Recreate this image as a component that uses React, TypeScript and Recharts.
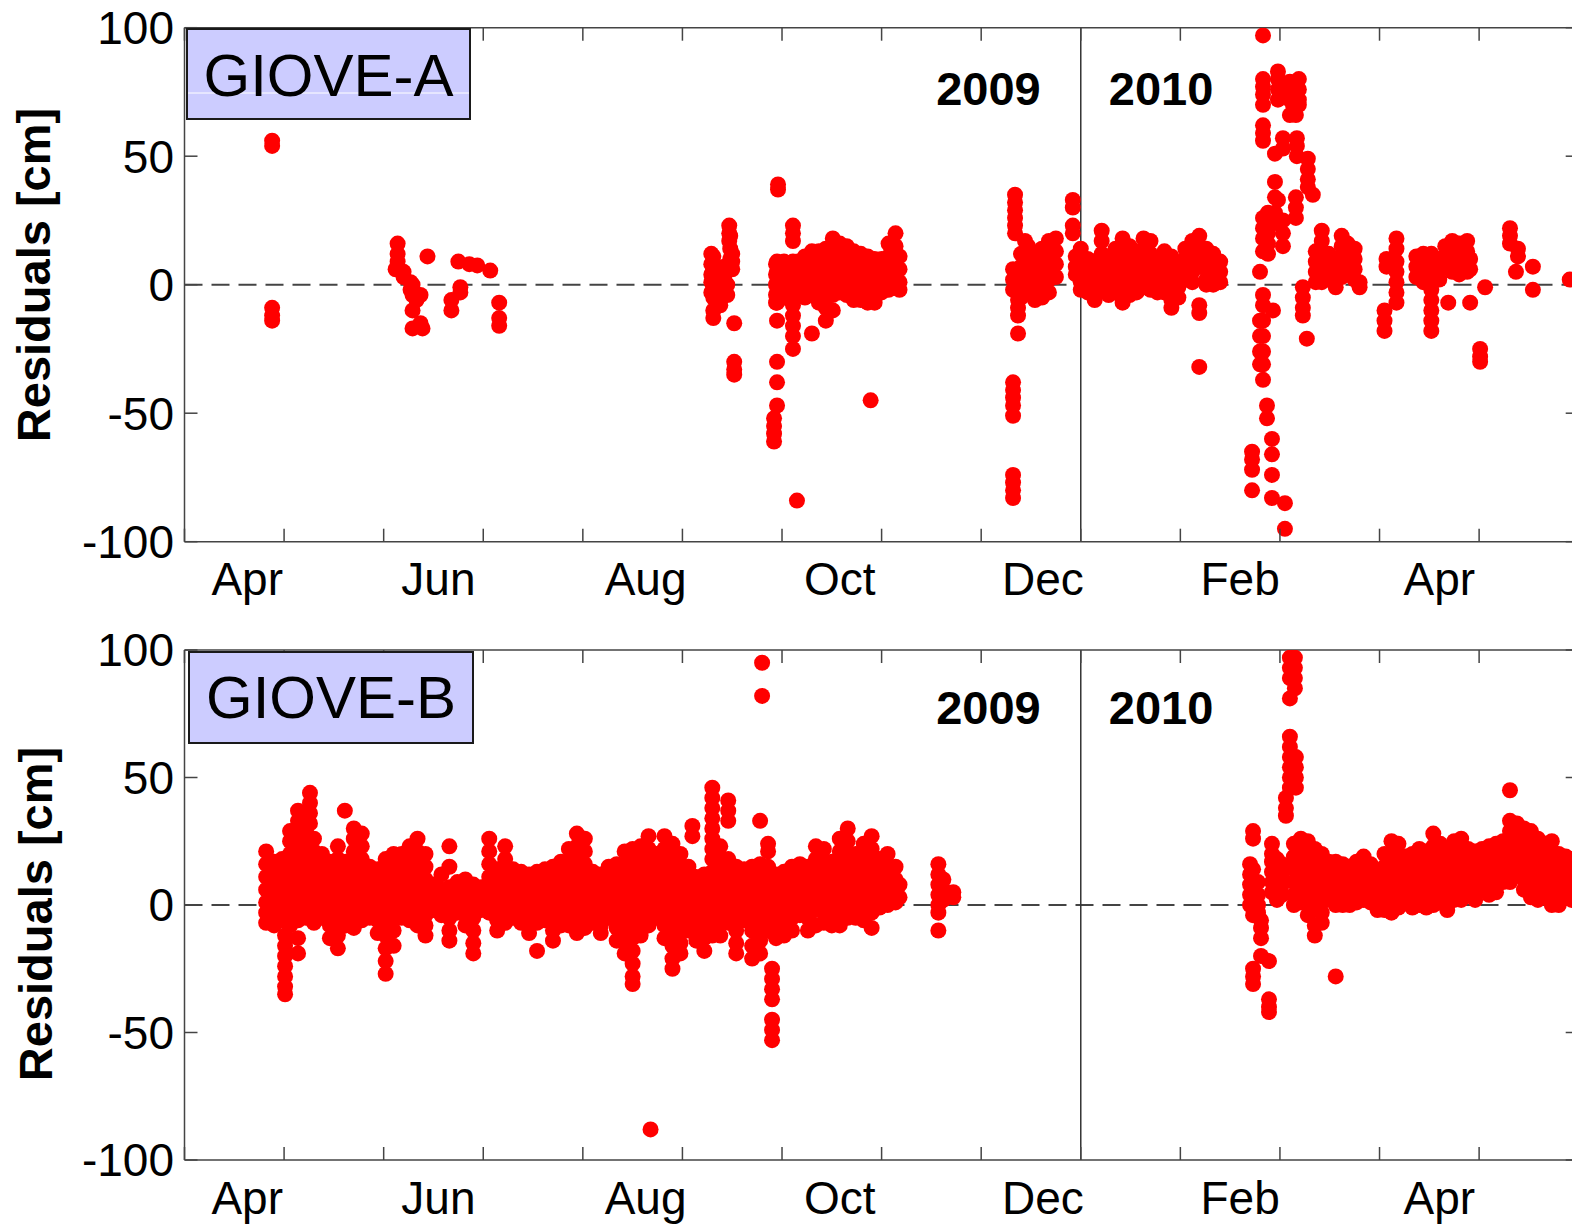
import React from 'react';
import { ScatterChart, Scatter, XAxis, YAxis, ReferenceLine, Legend } from 'recharts';

// time is in months since 1 Apr 2009, residuals in cm
type Epoch = [number, number[]];

const monthTicks = [0, 1, 2, 3, 4, 5, 6, 7, 8, 9, 10, 11, 12, 13, 14];
const monthLabels = ['Apr', 'Jun', 'Aug', 'Oct', 'Dec', 'Feb', 'Apr'];
const labelTicks = [0.63, 2.55, 4.63, 6.58, 8.62, 10.6, 12.6];
const residualTicks = [-100, -50, 0, 50, 100];
const yearBreak = 9;
const yearLabels = ['2009', '2010'];

const gioveA_spring09: Epoch[] = [
  [0.88, [56, 54, -9, -12, -14]],
  [2.12, [6]],
  [2.14, [16, 12, 9]],
  [2.2, [5, 3]],
  [2.27, [1, -2]],
  [2.29, [0, -4, -10, -17]],
  [2.33, [-6]],
  [2.37, [-15, -4]],
  [2.39, [-17]],
  [2.44, [11]],
  [2.68, [-6, -10]],
  [2.75, [9]],
  [2.77, [-1, -3]],
  [2.86, [8]],
  [2.94, [7.5]],
  [3.07, [5.5]],
  [3.16, [-7, -13, -16]],
];

const gioveA_autumn09: Epoch[] = [
  [5.29, [12, 8, 4, 1, -3]],
  [5.31, [11, 6, 0, -5, -10, -13]],
  [5.35, [3, -2, -7]],
  [5.38, [5, -8]],
  [5.42, [7, 2, -4]],
  [5.45, [6, 0, -4]],
  [5.47, [23, 20, 17]],
  [5.48, [19, 14, 10]],
  [5.5, [12, 9, 6]],
  [5.52, [-15, -30, -33, -35]],
  [5.92, [-52, -55, -58, -61]],
  [5.94, [8, 4, 0, -4, -7]],
  [5.95, [9, 5, 1, -3, -7, -14, -30, -38, -47]],
  [5.96, [39, 37]],
  [5.99, [8, 3, -1]],
  [6.02, [9, 4, 0, -5]],
  [6.11, [23, 20, 17, 9, 4, 0, -4, -8, -12, -16, -20, -25]],
  [6.15, [-84]],
  [6.16, [9, 5, 1, -3]],
  [6.23, [11, 7, 3, -1, -5]],
  [6.3, [13, 9, 4, 0, -4, -19]],
  [6.37, [13, 8, 3, -2, -7]],
  [6.44, [14, 10, 5, 0, -5, -9, -14]],
  [6.51, [18, 14, 9, 4, 0, -4, -10]],
  [6.58, [16, 12, 7, 2, -3]],
  [6.65, [15, 11, 6, 1, -4]],
  [6.72, [13, 9, 4, -1, -6]],
  [6.79, [12, 8, 3, -2, -6]],
  [6.86, [11, 7, 2, -3, -7]],
  [6.89, [-45]],
  [6.93, [10, 6, 1, -4, -7]],
  [7.0, [10, 5, 0, -3]],
  [7.07, [16, 11, 6, 1, -2]],
  [7.14, [20, 15, 10, 5, 0]],
  [7.18, [11, 6, 1, -2]],
];

const gioveA_dec09: Epoch[] = [
  [8.32, [6, 2, -2, -38, -41, -44, -47, -51, -74, -77, -80, -83]],
  [8.34, [35, 32, 29, 26, 23, 20]],
  [8.37, [-6, -9, -12, -19]],
  [8.4, [12, 7, 3, -1, -5]],
  [8.44, [17, 13, 9]],
  [8.47, [15, 10, 5, 1, -3]],
  [8.54, [11, 6, 2, -2, -6]],
  [8.61, [14, 9, 4, 0, -5]],
  [8.68, [17, 12, 7, 2, -3]],
  [8.75, [18, 13, 8, 3]],
  [8.92, [33, 30, 23, 20]],
  [8.95, [11, 7, 4]],
];

const gioveA_2010: Epoch[] = [
  [9.0, [14, 10, 5, 1, -2]],
  [9.07, [10, 6, 2, -3]],
  [9.14, [9, 5, 1, -3, -6]],
  [9.21, [21, 17, 12, 7, 3, -1]],
  [9.28, [11, 7, 3, -1, -4]],
  [9.35, [14, 9, 5, 1, -3]],
  [9.42, [18, 13, 8, 3, -2, -7]],
  [9.49, [15, 10, 5, 1, -4]],
  [9.56, [13, 9, 5, 1, -3]],
  [9.63, [18, 13, 8, 3, -1]],
  [9.7, [17, 12, 7, 3, -2]],
  [9.77, [9, 5, 1, -3]],
  [9.84, [13, 8, 4, 0, -3]],
  [9.91, [11, 6, 2, -2, -6, -9]],
  [9.98, [7, 3, -1, -5]],
  [10.05, [14, 10, 6, 2]],
  [10.12, [17, 13, 9, 5, 1]],
  [10.19, [19, 15, 11, 7, -8, -11, -32]],
  [10.26, [14, 10, 6, 2, 0]],
  [10.33, [12, 8, 4, 0]],
  [10.4, [9, 5, 1]],
  [10.72, [-65, -68, -72, -80]],
  [10.8, [5, -14, -20, -26, -31]],
  [10.83, [97, 80, 77, 74, 70, 62, 59, 56, 26, 22, 18, 13, -4, -8, -14, -20, -26, -31, -37]],
  [10.87, [-47, -52]],
  [10.88, [28, 24, 20, 16, 12]],
  [10.92, [-60, -66, -74, -83]],
  [10.93, [-10]],
  [10.95, [51, 40, 34, 28, 24]],
  [10.98, [83, 80, 76, 72, 33]],
  [11.03, [57, 53, 25, 20, 15]],
  [11.05, [-85, -95]],
  [11.1, [79, 76, 72, 66]],
  [11.13, [75, 70]],
  [11.16, [66, 34, 30, 26]],
  [11.17, [57, 54, 50]],
  [11.19, [80, 76, 72, 70]],
  [11.23, [-1, -5, -9, -12]],
  [11.27, [-21]],
  [11.28, [49, 45, 41, 38]],
  [11.33, [35]],
  [11.36, [13, 9, 5, 1]],
  [11.42, [21, 17, 13, 8, 4, 1]],
  [11.49, [12, 8, 4]],
  [11.56, [10, 6, 2, -1]],
  [11.62, [19, 15, 11, 7, 3]],
  [11.68, [16, 12, 8, 4]],
  [11.75, [14, 10, 6, 2]],
  [11.8, [1, -1]],
  [12.05, [-10, -14, -18]],
  [12.07, [10, 7]],
  [12.17, [18, 14, 9, 5, 1, -3, -7]],
  [12.37, [11, 7, 3]],
  [12.44, [12, 8, 4, 1]],
  [12.52, [12, 8, 4, -2, -6, -10, -14, -18]],
  [12.6, [10, 6, 2]],
  [12.66, [15, 11, 7]],
  [12.69, [-7]],
  [12.73, [17, 13, 9, 5]],
  [12.8, [16, 12, 8, 4]],
  [12.88, [17, 13, 9, 5]],
  [12.91, [10, 6, -7]],
  [13.01, [-25, -28, -30]],
  [13.06, [-1]],
  [13.31, [22, 19, 16]],
  [13.37, [5]],
  [13.39, [14, 11]],
  [13.54, [7, -2]],
  [13.91, [2]],
];

const gioveB_summer09: Epoch[] = [
  [0.82, [21, 16, 11, 6, 1, -3, -7]],
  [0.9, [17, 12, 7, 3, -1, -5, -8]],
  [0.98, [18, 13, 8, 3, -2, -6]],
  [1.01, [-12, -16, -20, -24, -28, -32, -35]],
  [1.06, [29, 25, 20, 15, 10, 5, 0, -4, -8]],
  [1.14, [37, 33, 28, 23, 18, 13, 8, 3, -2, -6, -13, -19]],
  [1.22, [34, 29, 24, 19, 14, 9, 4, -1, -5]],
  [1.26, [44, 40, 36, 32]],
  [1.3, [26, 21, 16, 11, 6, 1, -3, -7]],
  [1.38, [20, 15, 10, 5, 0, -5]],
  [1.46, [17, 12, 7, 2, -3, -8, -13]],
  [1.54, [23, 18, 13, 8, 3, -2, -7, -12, -17]],
  [1.61, [37]],
  [1.62, [17, 12, 7, 2, -3, -8]],
  [1.7, [30, 26, 21, 16, 11, 6, 1, -4, -9]],
  [1.78, [28, 23, 18, 13, 8, 3, -2, -6]],
  [1.86, [15, 10, 5, 0, -5]],
  [1.94, [14, 9, 4, -1, -6, -11]],
  [2.02, [18, 13, 8, 3, -2, -7, -12, -17, -22, -27]],
  [2.1, [20, 15, 10, 5, 0, -5, -10, -16]],
  [2.18, [20, 15, 10, 5, 0, -5]],
  [2.26, [23, 18, 13, 8, 3, -2, -6]],
  [2.34, [26, 21, 16, 11, 6, 1, -4, -8]],
  [2.42, [20, 15, 10, 5, 0, -4, -8, -12]],
  [2.5, [8, 3, -2]],
  [2.58, [12, 6, 1, -4]],
  [2.66, [23, 15, 7, 3, -1, -5, -10, -14]],
  [2.74, [9, 5, 1, -3]],
  [2.82, [10, 5, 0, -4, -8]],
  [2.9, [8, 4, 0, -5, -10, -15, -19]],
  [2.98, [7, 3, -2]],
  [3.06, [26, 21, 16, 11, 6, 1, -3]],
  [3.14, [14, 9, 4, -1, -6, -10]],
  [3.22, [23, 18, 13, 8, 3, -2, -7]],
  [3.3, [14, 9, 4, -1, -5]],
  [3.38, [13, 8, 3, -2, -7]],
  [3.46, [12, 7, 2, -3, -8, -11]],
  [3.54, [13, 8, 3, -2, -7, -18]],
  [3.62, [14, 9, 4, -1, -6]],
  [3.7, [15, 10, 5, 0, -5, -10, -14]],
  [3.78, [17, 12, 7, 2, -3, -8]],
  [3.86, [22, 17, 12, 7, 2, -3, -8]],
  [3.94, [28, 23, 18, 13, 8, 3, -2, -7, -11]],
];

const gioveB_autumn09: Epoch[] = [
  [4.02, [26, 21, 16, 11, 6, 1, -4, -9]],
  [4.1, [13, 8, 3, -2, -7]],
  [4.18, [12, 7, 2, -3, -8, -11]],
  [4.26, [15, 10, 5, 0, -5]],
  [4.34, [16, 11, 6, 1, -4, -9, -14]],
  [4.42, [21, 16, 11, 6, 1, -4, -9, -14, -19]],
  [4.5, [22, 17, 12, 7, 2, -3, -8, -13, -18, -23, -28, -31]],
  [4.58, [23, 18, 13, 8, 3, -2, -7, -12]],
  [4.66, [27, 22, 17, 12, 7, 2, -3, -8]],
  [4.68, [-88]],
  [4.74, [20, 15, 10, 5, 0, -5]],
  [4.82, [27, 22, 17, 12, 7, 2, -3, -8, -13]],
  [4.9, [24, 19, 14, 9, 4, -1, -6, -11, -16, -21, -25]],
  [4.98, [20, 15, 10, 5, 0, -5, -10, -15, -19]],
  [5.06, [15, 10, 5, 0, -5, -10]],
  [5.1, [31, 27]],
  [5.14, [11, 6, 1, -4, -9, -14]],
  [5.22, [12, 7, 2, -3, -8, -13, -18]],
  [5.3, [46, 42, 38, 34, 30, 26, 22, 18, 13, 8, 3, -2, -7, -12]],
  [5.38, [23, 18, 13, 8, 3, -2, -7, -12]],
  [5.46, [41, 37, 33, 18, 13, 8, 3, -2, -7]],
  [5.54, [15, 10, 5, 0, -5, -10, -15, -19]],
  [5.62, [14, 9, 4, -1, -6]],
  [5.7, [15, 10, 5, 0, -5, -10, -16, -21]],
  [5.78, [33, 16, 11, 6, 1, -4, -9, -14, -19]],
  [5.8, [95, 82]],
  [5.86, [24, 21, 15, 10, 5, 0, -5, -10]],
  [5.9, [-25, -29, -33, -37, -45, -49, -53]],
  [5.94, [12, 7, 2, -3, -8, -13]],
  [6.02, [13, 8, 3, -2, -7, -12]],
  [6.1, [15, 10, 5, 0, -5, -10]],
  [6.18, [16, 11, 6, 1, -4]],
  [6.26, [15, 10, 5, 0, -5, -10]],
  [6.34, [23, 18, 13, 8, 3, -2, -8]],
  [6.42, [22, 17, 12, 7, 2, -3, -7]],
  [6.5, [17, 12, 7, 2, -3, -8]],
  [6.58, [26, 21, 16, 11, 6, 1, -4, -8]],
  [6.66, [30, 25, 20, 15, 10, 5, 0, -5]],
  [6.74, [20, 15, 10, 5, 0, -5]],
  [6.82, [24, 19, 14, 9, 4, -1, -6]],
  [6.9, [27, 22, 17, 12, 7, 2, -3, -9]],
  [6.98, [18, 13, 8, 3, -1]],
  [7.06, [20, 15, 10, 5, 0]],
  [7.14, [15, 10, 5, 1]],
  [7.18, [8, 3]],
  [7.57, [16, 12, 8, 4, 0, -3, -10]],
  [7.62, [10, 6, 2]],
  [7.72, [5, 3]],
];

const gioveB_2010: Epoch[] = [
  [10.7, [16, 12, 8, 4, 0]],
  [10.73, [29, 26, 14, -1, -4, -25, -28, -31]],
  [10.78, [9, 4, 0, -3]],
  [10.81, [-6, -9, -13, -20]],
  [10.89, [-22, -37, -40, -42]],
  [10.92, [24, 20, 17, 13, 9, 5]],
  [10.97, [18, 14, 10, 6, 2]],
  [11.02, [16, 12, 8, 4]],
  [11.06, [42, 38, 35]],
  [11.1, [97, 93, 89, 81, 66, 62, 58, 54, 50, 46]],
  [11.15, [97, 93, 89, 85]],
  [11.16, [58, 54, 50, 46]],
  [11.14, [24, 19, 14, 9, 4, 0]],
  [11.21, [26, 21, 16, 11, 6, 1]],
  [11.28, [25, 20, 15, 10, 5, 1, -4]],
  [11.35, [22, 18, 13, 8, 3, -2, -8, -12]],
  [11.42, [20, 15, 10, 5, 1, -3, -7]],
  [11.49, [17, 12, 8, 4]],
  [11.56, [17, 13, 8, 4, 0, -28]],
  [11.63, [16, 12, 8, 4, 0]],
  [11.7, [15, 11, 7, 3, 0]],
  [11.77, [17, 13, 9, 5, 1]],
  [11.84, [19, 14, 10, 6, 2]],
  [11.91, [16, 12, 8, 4, 1]],
  [11.98, [13, 9, 5, 1, -2]],
  [12.05, [20, 15, 10, 6, 2, -2]],
  [12.12, [25, 20, 15, 10, 5, 0, -3]],
  [12.19, [24, 19, 14, 9, 4, -1]],
  [12.26, [19, 14, 10, 6, 2]],
  [12.33, [20, 15, 11, 7, 3, -1]],
  [12.4, [22, 17, 12, 8, 4, 0]],
  [12.47, [21, 16, 11, 7, 3, -1]],
  [12.54, [28, 23, 18, 13, 8, 4, 0]],
  [12.61, [24, 19, 14, 9, 5, 1]],
  [12.68, [22, 17, 12, 8, 4, 0, -2]],
  [12.75, [25, 20, 15, 10, 6, 2]],
  [12.82, [26, 21, 16, 11, 6, 2]],
  [12.89, [22, 17, 12, 8, 4]],
  [12.96, [21, 17, 13, 9, 5, 2]],
  [13.03, [22, 18, 14, 10, 6]],
  [13.1, [23, 19, 15, 11, 7, 4]],
  [13.17, [24, 20, 16, 12, 8, 5]],
  [13.24, [25, 21, 17, 13, 9]],
  [13.31, [45, 33, 29, 25, 21, 17, 13, 9]],
  [13.38, [32, 28, 24, 20, 16, 12]],
  [13.45, [30, 26, 22, 18, 14, 10, 6]],
  [13.52, [29, 25, 21, 17, 13, 8, 3]],
  [13.59, [26, 22, 18, 14, 10, 6, 2]],
  [13.66, [24, 20, 16, 12, 8, 4]],
  [13.73, [25, 21, 17, 13, 9, 4, 0]],
  [13.8, [20, 16, 12, 8, 4, 0]],
  [13.87, [19, 15, 11, 7, 3]],
  [13.93, [18, 14, 10, 6, 2]],
];

const FONT = "'Liberation Sans', Arial, Helvetica, sans-serif";
const axisColor = '#444';

const toPoints = (groups: Epoch[][]) =>
  groups.flat().flatMap(([t, rs]) => rs.map((r) => ({ t, r })));

const gioveA = toPoints([gioveA_spring09, gioveA_autumn09, gioveA_dec09, gioveA_2010]);
const gioveB = toPoints([gioveB_summer09, gioveB_autumn09, gioveB_2010]);

// bottom axis carries the month tick marks (bottom and top of the box) and the month names
const bottomTicks = [...monthTicks, ...labelTicks].sort((a, b) => a - b);

const MonthTick = (props: any) => {
  const { x, y, payload, span } = props;
  const i = labelTicks.indexOf(payload.value);
  if (i >= 0) {
    return (
      <text x={x} y={y + 21} dy="0.71em" textAnchor="middle" fontFamily={FONT} fontSize={46} fill="#000">
        {monthLabels[i]}
      </text>
    );
  }
  return (
    <g stroke={axisColor} strokeWidth={1.5}>
      <line x1={x} x2={x} y1={y} y2={y - 13} />
      <line x1={x} x2={x} y1={y - span} y2={y - span + 13} />
    </g>
  );
};

const NoLabel = () => <g />;

const Dot = (props: any) => {
  const { cx, cy } = props;
  if (cx == null || cy == null) return null;
  return <circle cx={cx} cy={cy} r={8} fill="#ff0000" />;
};

const YearMarks = (props: any) => {
  const { viewBox, baseline } = props;
  if (!viewBox) return null;
  return (
    <g fontFamily={FONT} fontWeight="bold" fontSize={47} fill="#000">
      <text x={viewBox.x - 40} y={viewBox.y + baseline} textAnchor="end">
        {yearLabels[0]}
      </text>
      <text x={viewBox.x + 28} y={viewBox.y + baseline} textAnchor="start">
        {yearLabels[1]}
      </text>
    </g>
  );
};

const AxisTitle = (props: any) => {
  const { bx, my } = props;
  return (
    <text
      x={bx}
      y={my}
      transform={`rotate(-90 ${bx} ${my})`}
      textAnchor="middle"
      fontFamily={FONT}
      fontWeight="bold"
      fontSize={47}
      fill="#000"
    >
      Residuals [cm]
    </text>
  );
};

const NameBox = ({ name, w, h, textY, glint }: any) => (
  <svg width={w} height={h} style={{ display: 'block' }}>
    <rect x={1} y={1} width={w - 2} height={h - 2} fill="#ccccff" stroke="#1a1a1a" strokeWidth={2} />
    {glint != null && <line x1={2} x2={w - 2} y1={glint} y2={glint} stroke="#ffffff" strokeWidth={1} />}
    <text x={w / 2} y={textY} textAnchor="middle" fontFamily={FONT} fontSize={60} fill="#000">
      {name}
    </text>
  </svg>
);

const tickStyle = { fontSize: 46, fill: '#000', fontFamily: FONT };

const Panel = ({ name, data, height, margin, span, titleX, titleY, yearBaseline, box }: any) => (
  <ScatterChart width={1600} height={height} margin={margin}>
    <XAxis
      xAxisId="t"
      type="number"
      dataKey="t"
      domain={[0, 14]}
      allowDataOverflow
      ticks={bottomTicks}
      interval={0}
      tick={<MonthTick span={span} />}
      tickLine={false}
      tickSize={0}
      tickMargin={0}
      height={1}
      stroke={axisColor}
      strokeWidth={1.5}
    />
    <XAxis
      xAxisId="top"
      orientation="top"
      type="number"
      domain={[0, 14]}
      allowDataOverflow
      tick={false}
      tickLine={false}
      height={1}
      stroke={axisColor}
      strokeWidth={1.5}
    />
    <YAxis
      yAxisId="r"
      type="number"
      dataKey="r"
      domain={[-100, 100]}
      allowDataOverflow
      ticks={residualTicks}
      interval={0}
      tickSize={-13}
      tickMargin={23.5}
      width={184.5}
      tick={tickStyle}
      stroke={axisColor}
      strokeWidth={1.5}
      label={<AxisTitle bx={titleX} my={titleY} />}
    />
    <YAxis
      yAxisId="right"
      orientation="right"
      type="number"
      domain={[-100, 100]}
      allowDataOverflow
      ticks={residualTicks}
      interval={0}
      tick={<NoLabel />}
      tickSize={-13}
      width={1}
      stroke={axisColor}
      strokeWidth={1.5}
    />
    <ReferenceLine xAxisId="t" yAxisId="r" y={0} stroke="#444" strokeWidth={2} strokeDasharray="18 9" />
    <ReferenceLine
      xAxisId="t"
      yAxisId="r"
      x={yearBreak}
      stroke="#333"
      strokeWidth={1.5}
      label={<YearMarks baseline={yearBaseline} />}
    />
    <Scatter xAxisId="t" yAxisId="r" data={data} shape={Dot} isAnimationActive={false} />
    <Legend
      layout="horizontal"
      verticalAlign="middle"
      align="center"
      wrapperStyle={{ left: box.left, top: box.top, width: box.w, height: box.h, lineHeight: 0 }}
      content={() => <NameBox name={name} w={box.w} h={box.h} textY={box.textY} glint={box.glint} />}
    />
  </ScatterChart>
);

export default function App() {
  return (
    <div
      style={{
        position: 'absolute',
        left: 0,
        top: 0,
        width: 1572,
        height: 1227,
        overflow: 'hidden',
        background: '#fff',
      }}
    >
      <div style={{ position: 'absolute', left: 0, top: 0 }}>
        <Panel
          name="GIOVE-A"
          data={gioveA}
          height={620}
          margin={{ top: 26.7, right: 20.3, bottom: 77.3, left: 0 }}
          span={514}
          titleX={50}
          titleY={275}
          yearBaseline={77.6}
          box={{ left: 186, top: 28.3, w: 285, h: 92, textY: 68.4, glint: 65 }}
        />
      </div>
      <div style={{ position: 'absolute', left: 0, top: 620 }}>
        <Panel
          name="GIOVE-B"
          data={gioveB}
          height={607}
          margin={{ top: 29, right: 20.3, bottom: 66, left: 0 }}
          span={510}
          titleX={52}
          titleY={294}
          yearBaseline={73.7}
          box={{ left: 187.7, top: 31, w: 286, h: 93, textY: 66.7 }}
        />
      </div>
    </div>
  );
}
